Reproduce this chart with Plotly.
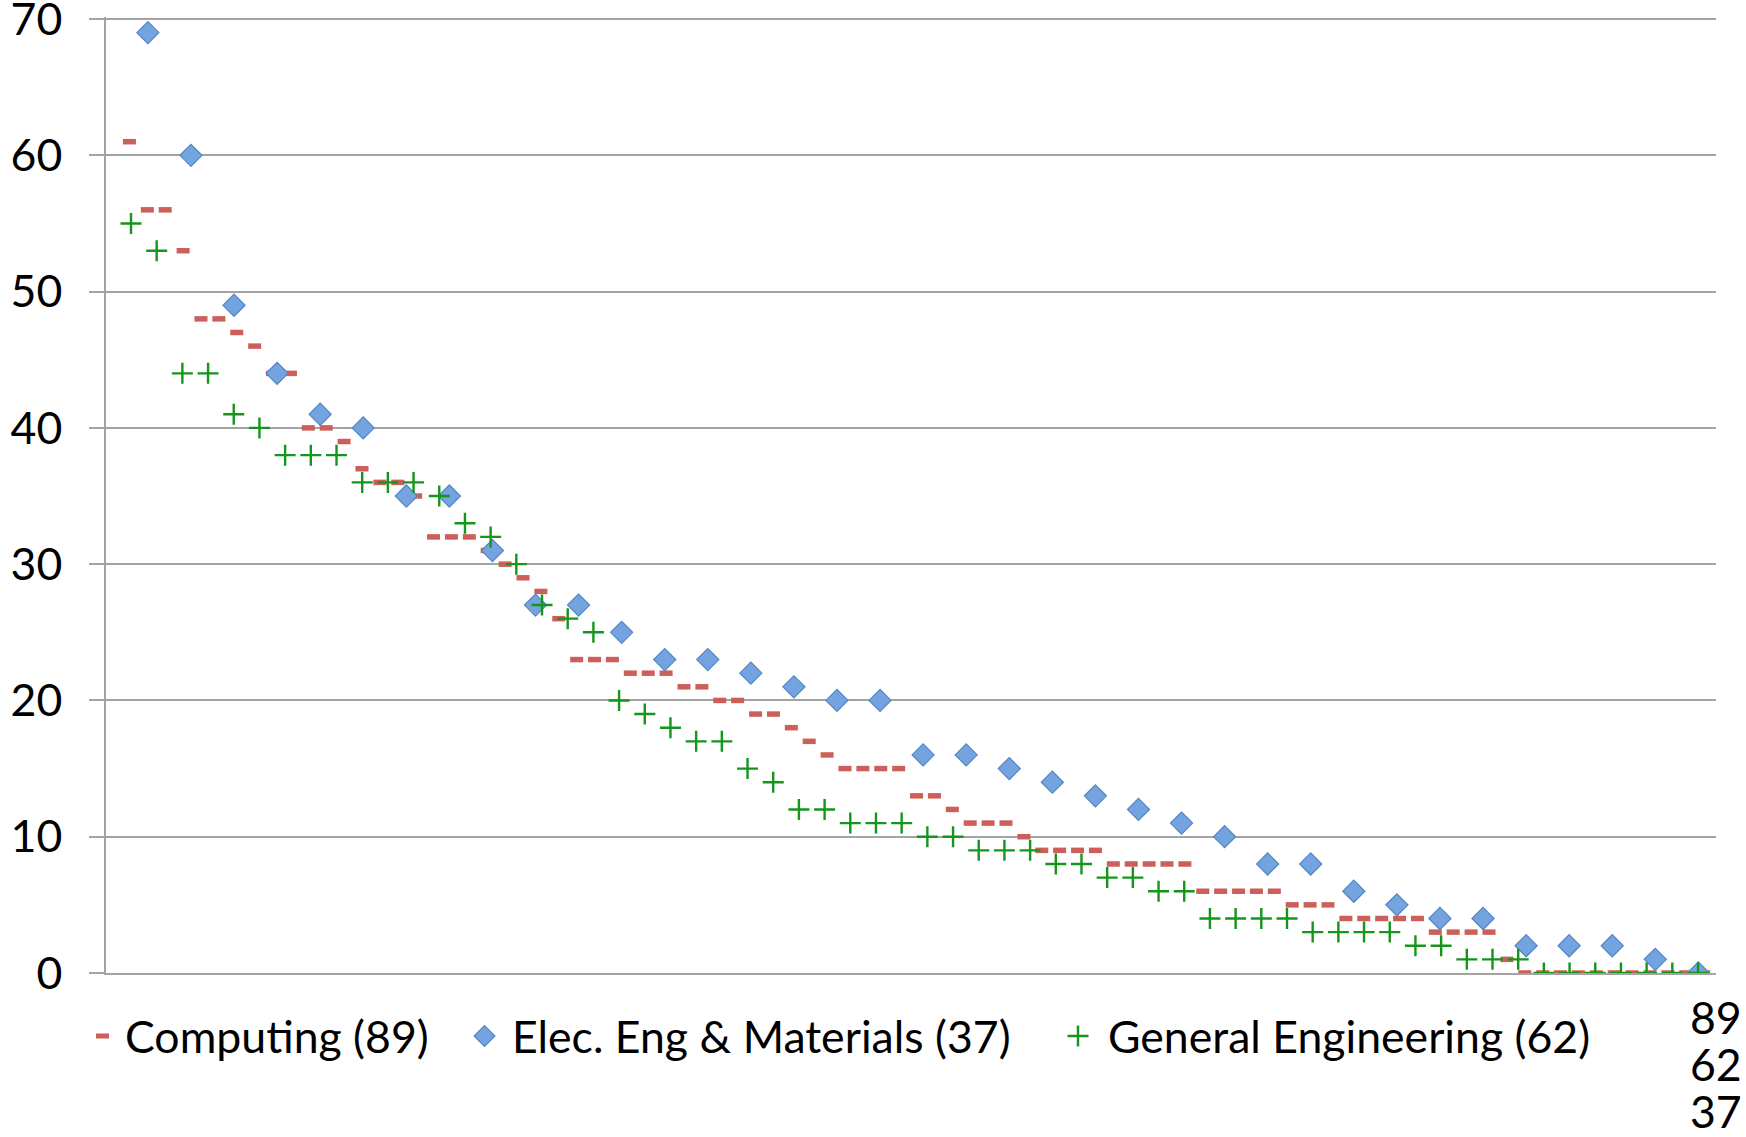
import plotly.graph_objects as go

# Scores sorted high -> low, one list per department (number of people in the label)
computing = [61, 56, 56, 53, 48, 48, 47, 46, 44, 44,
             40, 40, 39, 37, 36, 36, 35, 32, 32, 32,
             31, 30, 29, 28, 26, 23, 23, 23, 22, 22,
             22, 21, 21, 20, 20, 19, 19, 18, 17, 16,
             15, 15, 15, 15, 13, 13, 12, 11, 11, 11,
             10, 9, 9, 9, 9, 8, 8, 8, 8, 8,
             6, 6, 6, 6, 6, 5, 5, 5, 4, 4,
             4, 4, 4, 3, 3, 3, 3, 1, 0, 0,
             0, 0, 0, 0, 0, 0, 0, 0, 0]
elec_eng = [69, 60, 49, 44, 41, 40, 35, 35, 31, 27,
            27, 25, 23, 23, 22, 21, 20, 20, 16, 16,
            15, 14, 13, 12, 11, 10, 8, 8, 6, 5,
            4, 4, 2, 2, 2, 1, 0]
general_eng = [55, 53, 44, 44, 41, 40, 38, 38, 38, 36,
               36, 36, 35, 33, 32, 30, 27, 26, 25, 20,
               19, 18, 17, 17, 15, 14, 12, 12, 11, 11,
               11, 10, 10, 9, 9, 9, 8, 8, 7, 7,
               6, 6, 4, 4, 4, 4, 3, 3, 3, 3,
               2, 2, 1, 1, 1, 0, 0, 0, 0, 0,
               0, 0]

y_ticks = [0, 10, 20, 30, 40, 50, 60, 70]

FONT = "Lato"
FSIZE = 44.6
GRID = "#A3A3A3"
W, H = 1746, 1137

series = [
    ("Computing", computing, "x", dict(symbol="line-ew", size=9.3, color="#CD5F5A",
                                       line=dict(width=5.5, color="#CD5F5A"))),
    ("Elec. Eng & Materials", elec_eng, "x2", dict(symbol="diamond", size=17, color="#74A4E0",
                                                   line=dict(width=1.2, color="#5685C4"))),
    ("General Engineering", general_eng, "x3", dict(symbol="cross-thin", size=15, color="#14961A",
                                                    line=dict(width=2.4, color="#14961A"))),
]

fig = go.Figure()
legends = ["legend", "legend2", "legend3"]
for (name, vals, xa, marker), lg in zip(series, legends):
    fig.add_trace(go.Scatter(
        x=list(range(1, len(vals) + 1)), y=vals, mode="markers",
        name=f"{name} ({len(vals)})", xaxis=xa, marker=marker, legend=lg,
    ))

# each series sits on its own category-like axis spanning the full width
fig.update_layout(
    width=W, height=H,
    margin=dict(l=106, r=30, t=17, b=164, autoexpand=False),
    paper_bgcolor="white", plot_bgcolor="white",
    font=dict(family=FONT, size=FSIZE, color="black"),
    xaxis=dict(range=[-0.31, 89.69], showline=True, linecolor=GRID, linewidth=1.5,
               showgrid=False, zeroline=False, showticklabels=False, ticks=""),
    xaxis2=dict(range=[0.027, 37.41], overlaying="x", visible=False),
    xaxis3=dict(range=[0.027, 62.70], overlaying="x", visible=False),
    yaxis=dict(range=[0, 70.15], tickvals=y_ticks, showgrid=True, gridcolor=GRID, gridwidth=1.5,
               zeroline=False, showline=True, linecolor=GRID, linewidth=1.5,
               ticks="outside", ticklen=15, tickcolor=GRID, tickwidth=1.5, automargin=False,
               ticklabelstandoff=18, ticklabeloverflow="allow",
               tickfont=dict(family=FONT, size=FSIZE)),
    showlegend=True,
)

leg_y = 1 - 1036 / H
leg_common = dict(orientation="h", xref="container", yref="container", yanchor="middle",
                  xanchor="left", bgcolor="rgba(0,0,0,0)",
                  font=dict(family=FONT, size=FSIZE, color="black"))
fig.update_layout(
    legend=dict(x=80 / W, y=leg_y, itemwidth=35, **leg_common),
    legend2=dict(x=457 / W, y=leg_y, itemwidth=45, **leg_common),
    legend3=dict(x=1048 / W, y=leg_y, itemwidth=50, **leg_common),
)

# category counts shown under the right end of the axis
for i, vals in enumerate([computing, general_eng, elec_eng]):
    fig.add_annotation(x=1, y=0, xref="paper", yref="paper", text=str(len(vals)),
                       showarrow=False, xanchor="center", yanchor="middle",
                       yshift=-43 - 47 * i, font=dict(family=FONT, size=FSIZE, color="black"))

# drop the browser's default 8px body margin so the figure fills the window
fig.write_html("out.html", config={"displayModeBar": False},
               post_script="document.body.style.margin='0';")
